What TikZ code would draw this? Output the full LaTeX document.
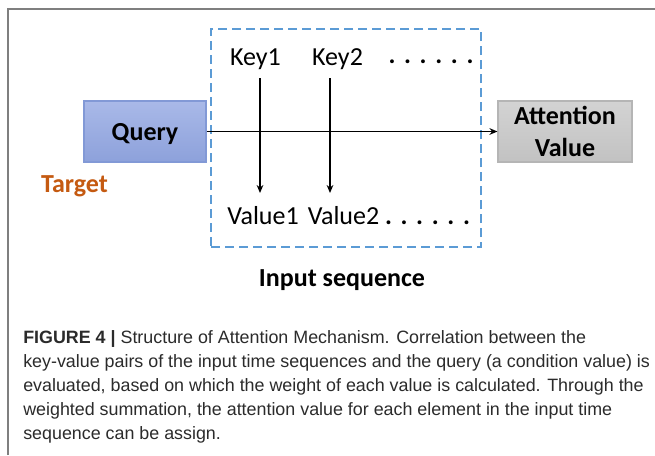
\documentclass[tikz,border=0pt]{standalone}
\usepackage{fontspec}
\setmainfont{Carlito}
\newfontfamily\capfont{Liberation Sans}
\usetikzlibrary{arrows.meta}
\definecolor{seqblue}{HTML}{5B9BD5}
\definecolor{qtop}{HTML}{A9B9E8}
\definecolor{qbot}{HTML}{8DA1DB}
\definecolor{qedge}{HTML}{8299D6}
\definecolor{atop}{HTML}{D3D3D3}
\definecolor{abot}{HTML}{C2C2C2}
\definecolor{aedge}{HTML}{B5B5B5}
\definecolor{targetorange}{HTML}{C55A11}
\definecolor{captext}{HTML}{2B2B2B}
\definecolor{framegray}{HTML}{7F7F7F}
\begin{document}
\begin{tikzpicture}[x=0.75pt,y=-0.75pt,
  lbl/.style={font=\fontsize{19.5pt}{23pt}\selectfont, inner sep=0pt, anchor=base},
  blbl/.style={lbl, font=\fontsize{19.5pt}{23pt}\selectfont\bfseries},
  qbox/.style={draw=qedge, line width=0.8pt, top color=qtop, bottom color=qbot,
    minimum width=91.5pt, minimum height=45.75pt, inner sep=0pt, text depth=0pt,
    font=\fontsize{19.5pt}{23pt}\selectfont\bfseries},
  abox/.style={draw=aedge, line width=0.8pt, top color=atop, bottom color=abot,
    minimum width=100.5pt, minimum height=45.75pt, inner sep=0pt, align=center,
    font=\fontsize{19.5pt}{24pt}\selectfont\bfseries},
  seqbox/.style={draw=seqblue, line width=2.1pt, dash pattern=on 6.6pt off 3.9pt,
    minimum width=202.5pt, minimum height=163.5pt, inner sep=0pt},
  arr/.style={-{Stealth[length=6pt,width=5pt]}, line width=0.9pt, black},
]
\useasboundingbox (0,0) rectangle (655,455);
\fill[white] (0,0) rectangle (655,455);
% outer frame (top and left edges)
\draw[framegray, line width=1.6pt] (8,455) -- (8,9) -- (655,9);

% input sequence container
\node[seqbox] (seq) at (346,138) {};

% query and result boxes
\node[qbox] (query) at (145,131.5) {Query};
\node[abox] (att) at (565,131.5) {Attention\\Value};

% keys and values
\node[lbl] (key1) at (255.5,65) {Key1};
\node[lbl] (key2) at (337.5,65) {Key2};
\node[lbl] (kdots) at (431,63) {\textbf{.\,\,.\,\,.\,\,.\,\,.\,\,.}};
\node[lbl] (val1) at (263,224) {Value1};
\node[lbl] (val2) at (343.5,224) {Value2};
\node[lbl] (vdots) at (427.5,224) {\textbf{.\,\,.\,\,.\,\,.\,\,.\,\,.}};

\coordinate (k1) at (260,78);
\coordinate (v1) at (260,193);
\coordinate (k2) at (330,78);
\coordinate (v2) at (330,193);
\draw[arr] (k1) -- (v1);
\draw[arr] (k2) -- (v2);
\draw[arr, line width=1.3pt] (query.east) -- (att.west);

% side labels
\node[blbl, text=targetorange] (target) at (74.5,192) {Target};
\node[blbl] (input) at (342,286) {Input sequence};

% caption
\node[anchor=north west, inner sep=0pt, align=left, text=captext,
  font=\capfont\fontsize{13.4pt}{18pt}\selectfont] (caption) at (23,330)
  {{\bfseries FIGURE 4 |} Structure of Attention Mechanism. Correlation between the\\
   key-value pairs of the input time sequences and the query (a condition value) is\\
   evaluated, based on which the weight of each value is calculated. Through the\\
   weighted summation, the attention value for each element in the input time\\
   sequence can be assign.};
\end{tikzpicture}
\end{document}
